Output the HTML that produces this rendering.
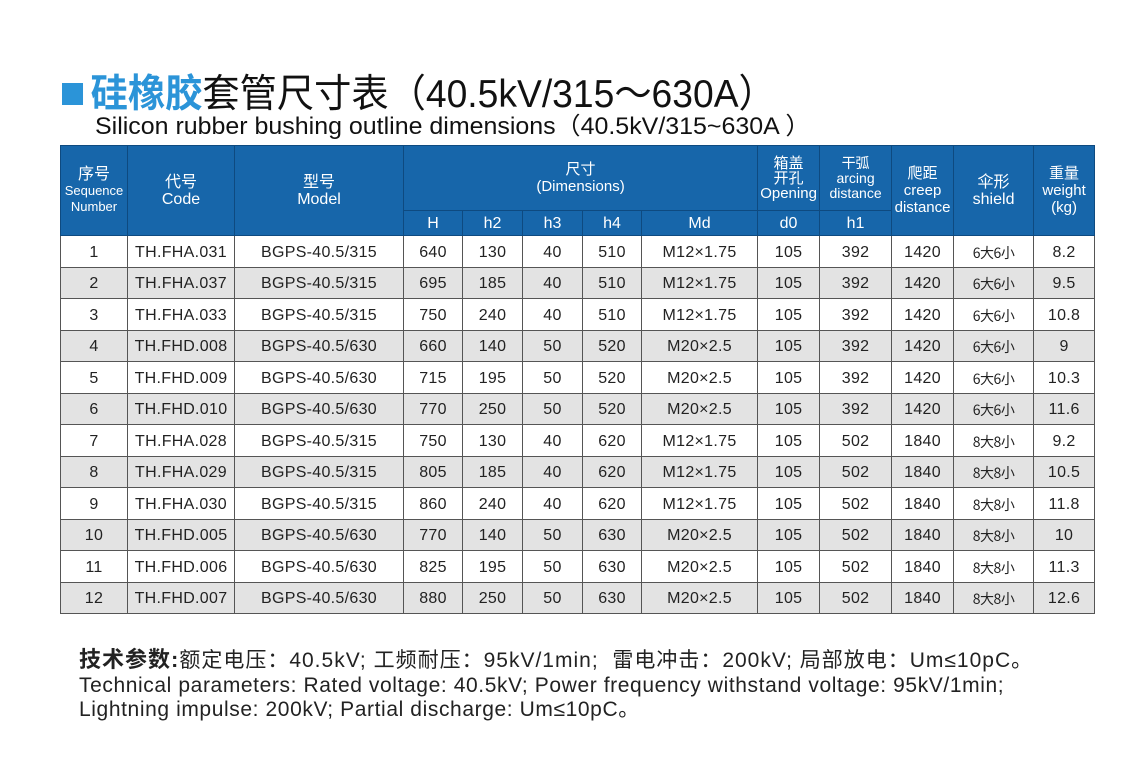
<!DOCTYPE html>
<html><head><meta charset="utf-8"><style>
body{margin:0;width:1148px;height:771px;background:#fff;position:relative;overflow:hidden;font-family:"Liberation Sans","Noto Sans CJK SC",sans-serif;}
.t1{position:absolute;left:62px;top:63px;font-size:39px;color:#111;white-space:nowrap;transform:scaleX(0.955);transform-origin:left;}
.t1 .b{color:#2b94d8;font-weight:bold}
.sq{display:inline-block;width:22px;height:22px;background:#2b94d8;margin-right:8px;vertical-align:2px}
.t2{position:absolute;left:95px;top:106px;font-size:24px;color:#111;white-space:nowrap;transform:scaleX(1.04);transform-origin:left;}
table{position:absolute;left:60px;top:145px;border-collapse:collapse;table-layout:fixed;width:1035px}
td{border:1px solid #555;text-align:center;font-size:16px;color:#222;padding:3px 0 0 0;height:27.5px;line-height:16px;white-space:nowrap;letter-spacing:0.3px;vertical-align:middle}
td.c{font-family:"Noto Sans CJK SC",sans-serif;font-size:14px;line-height:14px;letter-spacing:-0.5px}
tr.g td{background:#e3e3e3}
th{background:#1766aa;color:#fff;font-weight:normal;border:1px solid #0e4a80;font-size:15px;line-height:17px;padding:0}
th.s{height:24px;font-size:16px}
.f{position:absolute;left:79px;font-size:21px;color:#222;white-space:nowrap;letter-spacing:0.6px;line-height:24px}
</style></head><body>
<div class="t1"><span class="sq"></span><span class="b">硅橡胶</span>套管尺寸表（40.5kV/315～630A）</div>
<div class="t2">Silicon rubber bushing outline dimensions（40.5kV/315~630A ）</div>
<table>
<colgroup><col style="width:67px"><col style="width:107px"><col style="width:169px"><col style="width:59px"><col style="width:60px"><col style="width:60px"><col style="width:59px"><col style="width:116px"><col style="width:62px"><col style="width:72px"><col style="width:62px"><col style="width:80px"><col style="width:61px"></colgroup>
<tr style="height:65px"><th rowspan="2" style="font-size:13px;line-height:16px"><span style="font-size:16px">序号</span><br>Sequence<br>Number</th><th rowspan="2" style="font-size:16px">代号<br>Code</th><th rowspan="2" style="font-size:16px">型号<br>Model</th><th colspan="5" style="font-size:15px">尺寸<br>(Dimensions)</th><th style="font-size:15px;line-height:15px">箱盖<br>开孔<br>Opening</th><th style="font-size:14px;line-height:15px">干弧<br>arcing<br>distance</th><th rowspan="2" style="font-size:15px">爬距<br>creep<br>distance</th><th rowspan="2" style="font-size:16px">伞形<br>shield</th><th rowspan="2" style="font-size:15px">重量<br>weight<br>(kg)</th></tr>
<tr><th class="s">H</th><th class="s">h2</th><th class="s">h3</th><th class="s">h4</th><th class="s">Md</th><th class="s">d0</th><th class="s">h1</th></tr>
<tr><td>1</td><td>TH.FHA.031</td><td>BGPS-40.5/315</td><td>640</td><td>130</td><td>40</td><td>510</td><td>M12×1.75</td><td>105</td><td>392</td><td>1420</td><td class="c">6大6小</td><td>8.2</td></tr>
<tr class="g"><td>2</td><td>TH.FHA.037</td><td>BGPS-40.5/315</td><td>695</td><td>185</td><td>40</td><td>510</td><td>M12×1.75</td><td>105</td><td>392</td><td>1420</td><td class="c">6大6小</td><td>9.5</td></tr>
<tr><td>3</td><td>TH.FHA.033</td><td>BGPS-40.5/315</td><td>750</td><td>240</td><td>40</td><td>510</td><td>M12×1.75</td><td>105</td><td>392</td><td>1420</td><td class="c">6大6小</td><td>10.8</td></tr>
<tr class="g"><td>4</td><td>TH.FHD.008</td><td>BGPS-40.5/630</td><td>660</td><td>140</td><td>50</td><td>520</td><td>M20×2.5</td><td>105</td><td>392</td><td>1420</td><td class="c">6大6小</td><td>9</td></tr>
<tr><td>5</td><td>TH.FHD.009</td><td>BGPS-40.5/630</td><td>715</td><td>195</td><td>50</td><td>520</td><td>M20×2.5</td><td>105</td><td>392</td><td>1420</td><td class="c">6大6小</td><td>10.3</td></tr>
<tr class="g"><td>6</td><td>TH.FHD.010</td><td>BGPS-40.5/630</td><td>770</td><td>250</td><td>50</td><td>520</td><td>M20×2.5</td><td>105</td><td>392</td><td>1420</td><td class="c">6大6小</td><td>11.6</td></tr>
<tr><td>7</td><td>TH.FHA.028</td><td>BGPS-40.5/315</td><td>750</td><td>130</td><td>40</td><td>620</td><td>M12×1.75</td><td>105</td><td>502</td><td>1840</td><td class="c">8大8小</td><td>9.2</td></tr>
<tr class="g"><td>8</td><td>TH.FHA.029</td><td>BGPS-40.5/315</td><td>805</td><td>185</td><td>40</td><td>620</td><td>M12×1.75</td><td>105</td><td>502</td><td>1840</td><td class="c">8大8小</td><td>10.5</td></tr>
<tr><td>9</td><td>TH.FHA.030</td><td>BGPS-40.5/315</td><td>860</td><td>240</td><td>40</td><td>620</td><td>M12×1.75</td><td>105</td><td>502</td><td>1840</td><td class="c">8大8小</td><td>11.8</td></tr>
<tr class="g"><td>10</td><td>TH.FHD.005</td><td>BGPS-40.5/630</td><td>770</td><td>140</td><td>50</td><td>630</td><td>M20×2.5</td><td>105</td><td>502</td><td>1840</td><td class="c">8大8小</td><td>10</td></tr>
<tr><td>11</td><td>TH.FHD.006</td><td>BGPS-40.5/630</td><td>825</td><td>195</td><td>50</td><td>630</td><td>M20×2.5</td><td>105</td><td>502</td><td>1840</td><td class="c">8大8小</td><td>11.3</td></tr>
<tr class="g"><td>12</td><td>TH.FHD.007</td><td>BGPS-40.5/630</td><td>880</td><td>250</td><td>50</td><td>630</td><td>M20×2.5</td><td>105</td><td>502</td><td>1840</td><td class="c">8大8小</td><td>12.6</td></tr>
</table>
<div class="f" style="top:648px;letter-spacing:1px"><b style="font-size:22px">技术参数:</b>额定电压：40.5kV; 工频耐压：95kV/1min;&nbsp; 雷电冲击：200kV; 局部放电：Um≤10pC。</div>
<div class="f" style="top:674px">Technical parameters: Rated voltage: 40.5kV; Power frequency withstand voltage: 95kV/1min;</div>
<div class="f" style="top:698px">Lightning impulse: 200kV; Partial discharge: Um≤10pC。</div>
</body></html>
